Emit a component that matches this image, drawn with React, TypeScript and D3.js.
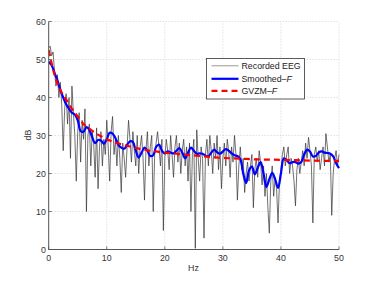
import React from "react";
import * as d3 from "d3";

const recordedEEG: number[] = [
  53, 53.5, 51, 52, 47, 43, 46, 40, 44, 38, 26, 37, 41, 33, 40, 24, 43, 36, 30, 18,
  31, 36, 23, 34, 29, 37, 10, 30, 33, 22, 31, 28, 19, 32, 16, 27, 31, 22, 29, 25,
  34, 27, 18, 31, 35, 25, 29, 22, 30, 24, 15, 28, 24, 19, 27, 34, 29, 23, 31, 26,
  22, 30, 20, 27, 30, 24, 13, 26, 31, 22, 27, 30, 10, 25, 28, 31, 27, 22, 29, 5,
  24, 29, 26, 21, 30, 25, 19, 27, 30, 23, 28, 20, 26, 29, 22, 27, 18, 28, 10, 25,
  29, 0.3, 31.5, 24, 18, 27, 24, 3, 25, 29, 22, 30, 26, 20, 28, 24, 30, 21, 27, 16,
  24, 28, 22, 29, 26, 19, 27, 23, 30, 25, 13, 22, 27, 21, 24, 15, 20, 23, 18, 22,
  25, 11, 21, 24, 19, 26, 23, 17, 22, 14, 20, 11, 4.3, 18, 22, 14, 19, 16, 7, 18,
  21, 25, 27, 22, 25, 27, 20, 24, 22, 18, 11.5, 21, 24, 20, 23, 26, 22, 28, 24, 29.5,
  26, 22, 7, 25, 27, 23, 26, 21, 24, 27, 22, 30.5, 27, 23, 25, 9, 20, 24, 26, 22, 25,
];
const eegStep = 0.25;

const smoothedHz: number[] = [
  0, 0.5, 1, 1.5, 2, 2.5, 3, 3.5, 4, 4.5, 5, 5.5, 6, 6.5, 7, 7.5, 8, 8.5, 9, 9.5,
  10, 10.5, 11, 11.5, 12, 12.5, 13, 13.5, 14, 14.5, 15, 15.5, 16, 16.5, 17, 17.5, 18, 18.5, 19, 19.5,
  20, 20.5, 21, 21.5, 22, 22.5, 23, 23.5, 24, 24.5, 25, 25.5, 26, 26.5, 27, 27.5, 28, 28.5, 29, 29.5,
  30, 30.5, 31, 31.5, 32, 32.5, 33, 33.5, 34, 34.5, 35, 35.5, 36, 36.5, 37, 37.5, 38, 38.5, 39, 39.5,
  40, 40.5, 41, 41.5, 42, 42.5, 43, 43.5, 44, 44.5, 45, 45.5, 46, 46.5, 47, 47.5, 48, 48.5, 49, 49.5, 50,
];
const smoothedDb: number[] = [
  49.4, 48.5, 46.5, 44.5, 42, 40, 38.2, 37, 36, 35.5, 34, 31.2, 31, 32.2, 31.5, 29.5, 28, 28.8, 28.7, 27.8,
  29, 30.7, 30.5, 29.3, 27.5, 26.8, 26.5, 27.5, 28.5, 28.3, 26, 24.2, 25.5, 26.8, 26, 24.6, 24.8, 27, 27.6, 26,
  25.3, 25.8, 25.5, 25.3, 26, 26.7, 25.5, 24, 25.5, 26.8, 26, 25.2, 25.3, 25.2, 24.7, 24.5, 25.5, 26.3, 25.6, 25.2,
  25.8, 26.4, 26, 25.3, 24.8, 24.6, 23.8, 20, 17.5, 20.8, 21.8, 19.8, 21.5, 23, 20, 16.5, 18.5, 20.2, 18.5, 16.2,
  20, 24, 23.5, 22.7, 23, 23, 22.6, 23, 25, 26.3, 25.8, 24.5, 24.6, 25.5, 25.8, 25.5, 25.4, 25.2, 24.5, 22.7, 21.4,
];

const gvzmHz: number[] = [0, 1, 2, 3, 4, 5, 6, 7, 8, 9, 10, 11, 12, 13, 14, 15, 16, 17, 18, 19, 20, 22, 24, 26, 28, 30, 33, 36, 40, 45, 50];
const gvzmDb: number[] = [52.5, 46, 42, 39.5, 37, 35, 33, 31.8, 30.7, 29.8, 29, 28.4, 27.9, 27.5, 27.1, 26.7, 26.4, 26.1, 25.9, 25.7, 25.5, 25.2, 24.9, 24.6, 24.3, 24.1, 23.9, 23.7, 23.6, 23.4, 23.3];

const xTicks = [0, 10, 20, 30, 40, 50];
const yTicks = [0, 10, 20, 30, 40, 50, 60];
const legendLabels = ["Recorded EEG", "Smoothed\u2013", "GVZM\u2013"];

export default function App() {
  const W = 374, H = 281;
  const x = d3.scaleLinear().domain([0, 50]).range([48.7, 339]);
  const y = d3.scaleLinear().domain([0, 60]).range([249.5, 21.5]);
  const font = "'Liberation Sans', Arial, Helvetica, sans-serif";
  const fs = 8.8;

  const eegLine = d3.line<number>()
    .x((_, i) => x(i * eegStep))
    .y((d) => y(d));
  const smLine = d3.line<number>()
    .x((_, i) => x(smoothedHz[i]))
    .y((d) => y(d))
    .curve(d3.curveCatmullRom);
  const gvLine = d3.line<number>()
    .x((_, i) => x(gvzmHz[i]))
    .y((d) => y(d))
    .curve(d3.curveMonotoneX);

  const [x0, x1] = x.range();
  const [y0, y1] = y.range();

  const lgX = 206.5, lgY = 58.5, lgW = 98, lgH = 40.5;
  const rows = [65.8, 78.8, 90.8];

  return (
    <svg width={W} height={H} style={{ position: "absolute", left: 0, top: 0, background: "#fff" }} fontFamily={font}>
      <rect x={0} y={0} width={W} height={H} fill="#fff" />
      <defs>
        <clipPath id="plotclip">
          <rect x={x0} y={y1 - 2} width={x1 - x0 + 2} height={y0 - y1 + 2} />
        </clipPath>
      </defs>
      {xTicks.map((t) => (
        <line key={"gx" + t} x1={x(t)} x2={x(t)} y1={y0} y2={y1} stroke="#c8c8c8" strokeWidth={0.8} strokeDasharray="1,2" />
      ))}
      {yTicks.map((t) => (
        <line key={"gy" + t} x1={x0} x2={x1} y1={y(t)} y2={y(t)} stroke="#c8c8c8" strokeWidth={0.8} strokeDasharray="1,2" />
      ))}
      <g clipPath="url(#plotclip)">
        <path d={eegLine(recordedEEG) || ""} fill="none" stroke="#333" strokeWidth={0.7} />
        <path d={smLine(smoothedDb) || ""} fill="none" stroke="#0000ff" strokeWidth={2.2} />
        <path d={gvLine(gvzmDb) || ""} fill="none" stroke="#ff0000" strokeWidth={2.2} strokeDasharray="6,4" />
      </g>
      <line x1={x0} x2={x0} y1={y0} y2={y1} stroke="#555" strokeWidth={1} />
      <line x1={x0} x2={x1} y1={y0} y2={y0} stroke="#555" strokeWidth={1} />
      {xTicks.map((t) => (
        <g key={"tx" + t}>
          <line x1={x(t)} x2={x(t)} y1={y0} y2={y0 - 3} stroke="#555" strokeWidth={0.8} />
          <text x={x(t)} y={261} fontSize={fs} textAnchor="middle" fill="#333">{t}</text>
        </g>
      ))}
      {yTicks.map((t) => (
        <g key={"ty" + t}>
          <line x1={x0} x2={x0 + 3} y1={y(t)} y2={y(t)} stroke="#555" strokeWidth={0.8} />
          <text x={45.8} y={y(t) + 3.2} fontSize={fs} textAnchor="end" fill="#333">{t}</text>
        </g>
      ))}
      <text x={193.5} y={270.8} fontSize={fs} textAnchor="middle" fill="#333">Hz</text>
      <text transform={`translate(30.8,135) rotate(-90)`} fontSize={fs} textAnchor="middle" fill="#333">dB</text>
      <rect x={lgX} y={lgY} width={lgW} height={lgH} fill="#fff" stroke="#333" strokeWidth={0.8} />
      <line x1={211.5} x2={238.5} y1={rows[0]} y2={rows[0]} stroke="#999" strokeWidth={1} />
      <line x1={211.5} x2={238.5} y1={rows[1]} y2={rows[1]} stroke="#0000ff" strokeWidth={2.2} />
      <line x1={211.5} x2={238.5} y1={rows[2]} y2={rows[2]} stroke="#ff0000" strokeWidth={2.2} strokeDasharray="6,4" />
      <text x={241.5} y={rows[0] + 3.2} fontSize={fs} fill="#222">{legendLabels[0]}</text>
      <text x={241.5} y={rows[1] + 3.2} fontSize={fs} fill="#222">
        {legendLabels[1]}<tspan fontStyle="italic">F</tspan>
      </text>
      <text x={241.5} y={rows[2] + 3.2} fontSize={fs} fill="#222">
        {legendLabels[2]}<tspan fontStyle="italic">F</tspan>
      </text>
    </svg>
  );
}
